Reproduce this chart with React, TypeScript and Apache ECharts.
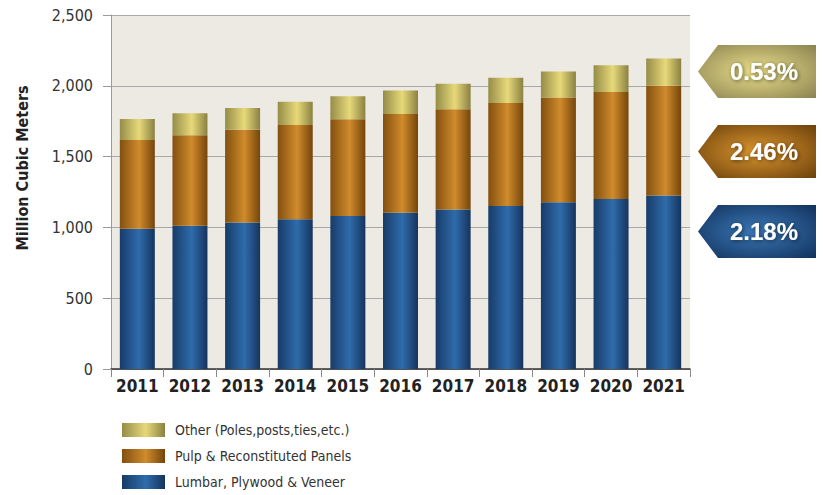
import React, { useEffect, useRef } from "react";
import * as echarts from "echarts";

const years = ["2011", "2012", "2013", "2014", "2015", "2016", "2017", "2018", "2019", "2020", "2021"];
const lumber = [990, 1011, 1035, 1057, 1080, 1103, 1127, 1151, 1177, 1200, 1226];
const pulp = [628, 640, 654, 667, 684, 697, 708, 727, 740, 757, 774];
const other = [148, 156, 155, 163, 163, 167, 179, 179, 184, 189, 193];
const seriesNames = ["Lumbar, Plywood & Veneer", "Pulp & Reconstituted Panels", "Other (Poles,posts,ties,etc.)"];
const growthRates = [0.53, 2.46, 2.18]; // Other, Pulp, Lumber
const yTicks = [0, 500, 1000, 1500, 2000, 2500];

const NARROW = "'Liberation Sans Narrow', 'DejaVu Sans Condensed', 'Roboto', sans-serif";

const lg = (a: string, b: string, c: string) =>
  new echarts.graphic.LinearGradient(0, 0, 1, 0, [
    { offset: 0, color: a },
    { offset: 0.55, color: b },
    { offset: 1, color: c },
  ]);
const rg = (a: string, b: string) =>
  new echarts.graphic.RadialGradient(0.5, 0.5, 0.7, [
    { offset: 0, color: a },
    { offset: 1, color: b },
  ]);

export default function App() {
  const ref = useRef<HTMLDivElement>(null);
  useEffect(() => {
    if (!ref.current) return;
    const chart = echarts.init(ref.current, null, { renderer: "svg" });
    const colors = [
      lg("#173b68", "#2f6cab", "#15345d"),
      lg("#82500f", "#d08b2c", "#74450b"),
      lg("#958c48", "#e7d979", "#8a8142"),
    ];
    const arrowColors = [
      rg("#ece08c", "#8a8350"),
      rg("#dc962f", "#6c410b"),
      rg("#3a78b8", "#12325c"),
    ];
    const arrowTops = [45, 125, 205];
    const arrowH = 53;
    const graphics: any[] = [
      {
        type: "text",
        x: 22,
        y: 168,
        rotation: Math.PI / 2,
        style: {
          text: "Million Cubic Meters",
          fontFamily: NARROW,
          fontWeight: "bold",
          fontSize: 16,
          fill: "#222",
          align: "center",
          verticalAlign: "middle",
        },
      },
    ];
    growthRates.forEach((g, i) => {
      const t = arrowTops[i];
      const m = t + arrowH / 2;
      graphics.push({
        type: "polygon",
        shape: {
          points: [
            [698, m],
            [718, t],
            [816, t],
            [816, t + arrowH],
            [718, t + arrowH],
          ],
        },
        style: { fill: arrowColors[i] },
      });
      graphics.push({
        type: "text",
        x: 764,
        y: m,
        style: {
          text: g.toFixed(2) + "%",
          fontFamily: "'Liberation Sans', Arial, sans-serif",
          fontWeight: "bold",
          fontSize: 24,
          fill: "#ffffff",
          align: "center",
          verticalAlign: "middle",
          textShadowColor: "rgba(0,0,0,0.55)",
          textShadowBlur: 4,
          textShadowOffsetX: 1,
          textShadowOffsetY: 1,
        },
      });
    });

    chart.setOption({
      animation: false,
      backgroundColor: "#ffffff",
      grid: {
        left: 111,
        right: 133,
        top: 15,
        bottom: 126,
        show: true,
        backgroundColor: "#edeae4",
        borderWidth: 0,
      },
      legend: {
        orient: "vertical",
        left: 117,
        top: 418,
        height: 90,
        itemWidth: 43,
        itemHeight: 14,
        itemGap: 12,
        icon: "rect",
        data: [seriesNames[2], seriesNames[1], seriesNames[0]],
        textStyle: { fontFamily: NARROW, fontSize: 14, color: "#333", padding: [0, 0, 0, 5] },
      },
      xAxis: {
        type: "category",
        data: years,
        axisLine: { lineStyle: { color: "#333", width: 1.5 } },
        axisTick: { show: true, length: 8, lineStyle: { color: "#888" } },
        axisLabel: {
          interval: 0,
          fontFamily: NARROW,
          fontWeight: "bold",
          fontSize: 17,
          color: "#222",
          margin: 8,
        },
      },
      yAxis: {
        type: "value",
        min: yTicks[0],
        max: yTicks[yTicks.length - 1],
        interval: yTicks[1] - yTicks[0],
        axisLine: { show: true, lineStyle: { color: "#9a9a9a" } },
        axisTick: { show: true, length: 8, lineStyle: { color: "#9a9a9a" } },
        splitLine: { lineStyle: { color: "#a8a8a8" } },
        axisLabel: {
          fontFamily: NARROW,
          fontSize: 16,
          color: "#333",
          margin: 18,
          formatter: (v: number) => v.toLocaleString("en-US"),
        },
      },
      series: [lumber, pulp, other].map((d, i) => ({
        name: seriesNames[i],
        type: "bar",
        stack: "total",
        barWidth: 35,
        data: d,
        itemStyle: { color: colors[i] },
      })),
      graphic: graphics,
    });
    return () => chart.dispose();
  }, []);
  return <div ref={ref} style={{ position: "fixed", left: 0, top: 0, width: 823, height: 495 }} />;
}
